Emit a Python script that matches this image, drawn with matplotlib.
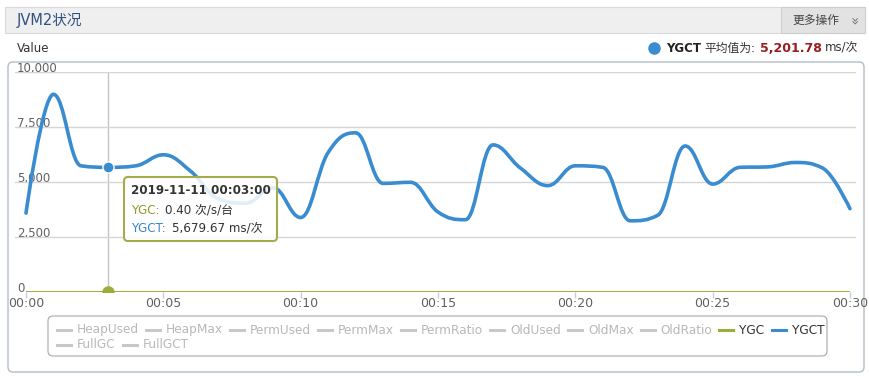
import matplotlib
matplotlib.use('Agg')
import matplotlib.pyplot as plt
from matplotlib.path import Path
from matplotlib.patches import PathPatch, FancyBboxPatch, Rectangle
from matplotlib.transforms import Affine2D, blended_transform_factory
from matplotlib.lines import Line2D

plt.rcParams['font.family'] = ['DejaVu Sans', 'Noto Sans CJK SC']

# ---------------- data ----------------
minutes = list(range(31))
tick_minutes = [0, 5, 10, 15, 20, 25, 30]
tick_labels = ['00:00', '00:05', '00:10', '00:15', '00:20', '00:25', '00:30']
ygct = [3600, 9000, 5750, 5679.67, 5750, 6250, 5500, 4250, 4050, 4750,
        3400, 6350, 7250, 4950, 5000, 3650, 3300, 6700, 5650, 4850,
        5750, 5680, 3250, 3500, 6650, 4920, 5680, 5700, 5900, 5650, 3800]
ygc = [0.40, 0.40, 0.40, 0.40, 0.40, 0.40, 0.40, 0.40, 0.40, 0.40,
       0.40, 0.40, 0.40, 0.40, 0.40, 0.40, 0.40, 0.40, 0.40, 0.40,
       0.40, 0.40, 0.40, 0.40, 0.40, 0.40, 0.40, 0.40, 0.40, 0.40, 0.40]
y_ticks = [0, 2500, 5000, 7500, 10000]
y_tick_labels = ['0', '2,500', '5,000', '7,500', '10,000']
legend_names = ['HeapUsed', 'HeapMax', 'PermUsed', 'PermMax', 'PermRatio',
                'OldUsed', 'OldMax', 'OldRatio', 'YGC', 'YGCT',
                'FullGC', 'FullGCT']
hover_index = 3
hover_time = '2019-11-11 00:03:00'
ygct_avg = 5201.78
title = 'JVM2状况'

# ---------------- styles ----------------
BLUE = '#3a8cd0'
GREEN = '#9dac3a'
W, H = 870, 376

fig = plt.figure(figsize=(W / 100, H / 100), dpi=100)
fig.patch.set_facecolor('white')
px = Affine2D().scale(1 / W, -1 / H).translate(0, 1) + fig.transFigure
renderer = fig.canvas.get_renderer()


def text(x, y, s, **kw):
    kw.setdefault('va', 'center')
    return fig.text(x, y, s, transform=px, **kw)


def wid(t):
    return t.get_window_extent(renderer=renderer).width


# header bar
fig.add_artist(Rectangle((5, 7), 860, 26, transform=px, fc='#efefef', ec='#dadada', lw=0.8, zorder=-2))
fig.add_artist(Rectangle((781, 7), 84, 26, transform=px, fc='#e2e2e2', ec='#cfcfcf', lw=0.8, zorder=-2))
text(17, 20, title, fontsize=10.5, color='#2f5283')
text(792, 20, '更多操作', fontsize=8.5, color='#444444')
text(853, 21, '»', fontsize=10, color='#777777', rotation=-90, ha='center')

# chart frame
fig.add_artist(FancyBboxPatch((8, 62), 856, 310, boxstyle='round,pad=0,rounding_size=5',
                              transform=px, fc='white', ec='#b4bcc6', lw=1.0, zorder=-1))
text(17, 48, 'Value', fontsize=8.5, color='#333333')

# summary top-right (built right to left)
xr = 858
t = text(xr, 48, 'ms/次', fontsize=8.5, color='#333333', ha='right')
xr -= wid(t) + 3
t = text(xr, 48, f'{ygct_avg:,.2f}', fontsize=9, color='#9b1c1c', ha='right', fontweight='bold')
xr -= wid(t) + 4
t = text(xr, 48, '平均值为:', fontsize=8.5, color='#333333', ha='right')
xr -= wid(t) + 4
t = text(xr, 48, 'YGCT', fontsize=8.5, color='#222222', ha='right', fontweight='bold')
xr -= wid(t) + 12
fig.add_artist(Line2D([xr], [48], transform=px, marker='o', ms=8, color=BLUE, mec=BLUE))

# ---------------- axes ----------------
top_px, bot_px, left_px, right_px = 72.3, 292.3, 15, 856
ax = fig.add_axes([left_px / W, 1 - bot_px / H, (right_px - left_px) / W, (bot_px - top_px) / H])
ax.patch.set_visible(False)
for s in ax.spines.values():
    s.set_visible(False)
ax.set_xlim(-0.40, 30.22)
ax.set_ylim(0, 10000)
ax.set_yticks(y_ticks)
ax.tick_params(axis='y', left=False, labelleft=False)
ax.grid(axis='y', color='#d6d6d6', lw=1.0, zorder=0)
ax.set_xticks(tick_minutes)
ax.set_xticklabels(tick_labels)
ax.tick_params(axis='x', length=4, width=1, color='#c0d0e0', labelsize=9, labelcolor='#606060', pad=-0.5)

tr = blended_transform_factory(ax.transAxes, ax.transData)
for v, lab in zip(y_ticks, y_tick_labels):
    ax.text(2 / (right_px - left_px), v, lab, transform=tr, fontsize=8.5, color='#606060',
            ha='left', va='baseline', zorder=1)


def spline_path(xs, ys, smoothing=1.5):
    n = len(xs)
    denom = smoothing + 1
    lc = [None] * n
    rc = [None] * n
    for i in range(1, n - 1):
        x, y = xs[i], ys[i]
        lx, ly, nx, ny = xs[i - 1], ys[i - 1], xs[i + 1], ys[i + 1]
        lcx = (smoothing * x + lx) / denom
        lcy = (smoothing * y + ly) / denom
        rcx = (smoothing * x + nx) / denom
        rcy = (smoothing * y + ny) / denom
        corr = 0
        if rcx != lcx:
            corr = ((rcy - lcy) * (rcx - x)) / (rcx - lcx) + y - rcy
        lcy += corr
        rcy += corr
        if lcy > ly and lcy > y:
            lcy = max(ly, y)
            rcy = 2 * y - lcy
        elif lcy < ly and lcy < y:
            lcy = min(ly, y)
            rcy = 2 * y - lcy
        if rcy > ny and rcy > y:
            rcy = max(ny, y)
            lcy = 2 * y - rcy
        elif rcy < ny and rcy < y:
            rcy = min(ny, y)
            lcy = 2 * y - rcy
        lc[i] = (lcx, lcy)
        rc[i] = (rcx, rcy)
    verts = [(xs[0], ys[0])]
    codes = [Path.MOVETO]
    for i in range(1, n):
        c1 = rc[i - 1] if rc[i - 1] is not None else (xs[i - 1], ys[i - 1])
        c2 = lc[i] if lc[i] is not None else (xs[i], ys[i])
        verts += [c1, c2, (xs[i], ys[i])]
        codes += [Path.CURVE4] * 3
    return Path(verts, codes)


ax.axvline(minutes[hover_index], color='#c4c4c4', lw=1, zorder=1)
ax.add_patch(PathPatch(spline_path(minutes, ygc), fc='none', ec=GREEN, lw=1.8, zorder=2))
ax.add_patch(PathPatch(spline_path(minutes, ygct), fc='none', ec=BLUE, lw=2.6,
                       capstyle='round', joinstyle='round', zorder=3))
ax.scatter([minutes[hover_index]], [ygc[hover_index]], s=64, color=GREEN, zorder=4, clip_on=True)
ax.scatter([minutes[hover_index]], [ygct[hover_index]], s=64, color=BLUE, edgecolors='white',
           linewidths=1, zorder=4)

# ---------------- tooltip ----------------
fig.add_artist(FancyBboxPatch((124, 177), 153, 64, boxstyle='round,pad=0,rounding_size=4',
                              transform=px, fc=(1, 1, 1, 0.85), ec='#a4ab4c', lw=1.5, zorder=5))
text(131, 190, hover_time, fontsize=8.6, color='#333333', fontweight='bold', zorder=6)
t = text(131, 210, 'YGC:', fontsize=8.6, color='#8f9a2c', zorder=6)
text(131 + wid(t) + 6, 210, f'{ygc[hover_index]:.2f} 次/s/台', fontsize=8.6, color='#333333', zorder=6)
t = text(131, 228, 'YGCT:', fontsize=8.6, color='#3a86c4', zorder=6)
text(131 + wid(t) + 6, 228, f'{ygct[hover_index]:,.2f} ms/次', fontsize=8.6, color='#333333', zorder=6)

# ---------------- legend ----------------
fig.add_artist(FancyBboxPatch((48, 316), 779, 40, boxstyle='round,pad=0,rounding_size=5',
                              transform=px, fc='white', ec='#a8a8a8', lw=0.8, zorder=-1))
active_colors = {'YGC': GREEN, 'YGCT': BLUE}
x, y = 57, 330
for name in legend_names:
    active = name in active_colors
    lc = active_colors.get(name, '#c8c8c8')
    tc = '#333333' if active else '#b8b8b8'
    t = text(x + 20, y, name, fontsize=8.7, color=tc)
    w = wid(t)
    if x + 20 + w > 826:
        t.remove()
        x, y = 57, y + 15
        t = text(x + 20, y, name, fontsize=8.7, color=tc)
    fig.add_artist(Line2D([x, x + 14], [y, y], transform=px, color=lc, lw=2.2))
    x += 20 + w + 7

fig.savefig('out.png', dpi=100, facecolor='white')
